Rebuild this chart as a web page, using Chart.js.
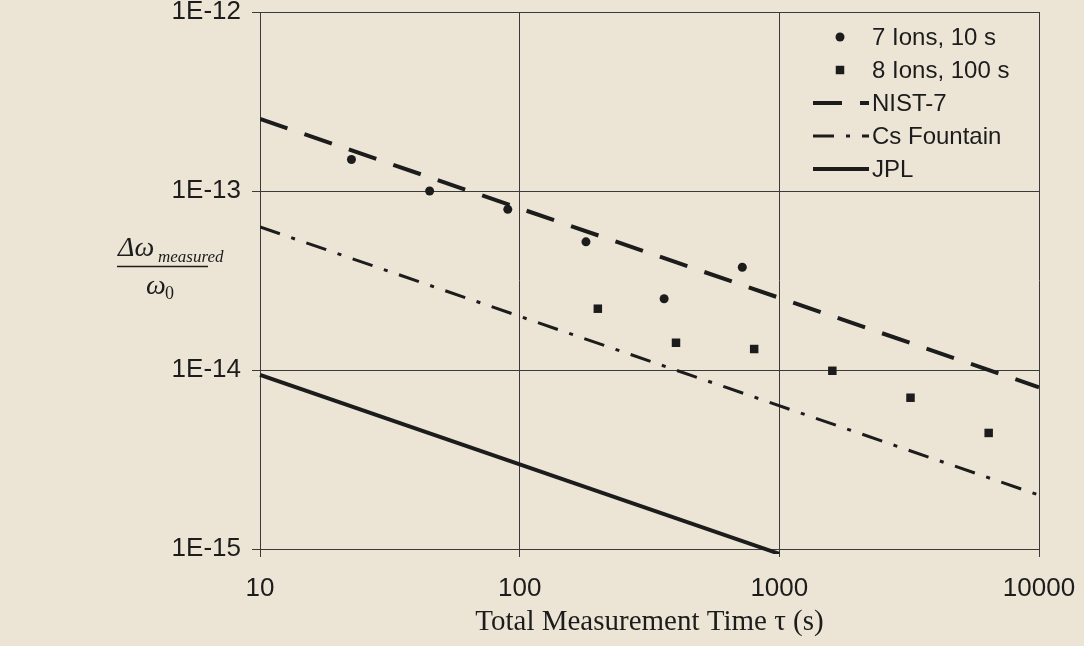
<!DOCTYPE html>
<html>
<head>
<meta charset="utf-8">
<script src="https://cdn.jsdelivr.net/npm/chart.js@4/dist/chart.umd.min.js"></script>
<style>
  html, body { margin: 0; padding: 0; background: #ece5d6; }
  #wrap { width: 1084px; height: 646px; }
</style>
</head>
<body>
<div id="wrap"><canvas id="c" width="1084" height="646"></canvas></div>
<script>
// ---- data ----
const ions7Times  = [22.5, 45, 90, 180, 360, 720];
const ions7Values = [1.5e-13, 1.0e-13, 7.9e-14, 5.2e-14, 2.5e-14, 3.75e-14];
const ions8Times  = [200, 400, 800, 1600, 3200, 6400];
const ions8Values = [2.2e-14, 1.42e-14, 1.31e-14, 9.9e-15, 7.0e-15, 4.45e-15];
const refTimes    = [10, 10000];
const nist7Values = [2.53e-13, 8.0e-15];
const csFountainValues = [6.3e-14, 2.0e-15];
const jplTimes    = [10, 1000];
const jplValues   = [9.4e-15, 9.4e-16];
const seriesLabels = ['7 Ions, 10 s', '8 Ions, 100 s', 'NIST-7', 'Cs Fountain', 'JPL'];
const xTickValues = [10, 100, 1000, 10000];
const xTickLabels = ['10', '100', '1000', '10000'];
const yTickValues = [1e-15, 1e-14, 1e-13, 1e-12];
const yTickLabels = ['1E-15', '1E-14', '1E-13', '1E-12'];

const pts = (xs, ys) => xs.map((x, i) => ({ x: x, y: ys[i] }));
const INK = '#1c1c1c';
const GRID = '#3a3a3a';
const BG = '#ece5d6';

const bgPlugin = {
  id: 'bg',
  beforeDraw(chart) {
    const ctx = chart.ctx;
    ctx.save();
    ctx.fillStyle = BG;
    ctx.fillRect(0, 0, chart.width, chart.height);
    ctx.restore();
  }
};

const legendPlugin = {
  id: 'insideLegend',
  afterDraw(chart) {
    const ctx = chart.ctx;
    const x0 = 813, x1 = 869, textX = 872, y0 = 37, dy = 33;
    ctx.save();
    ctx.font = '24px "Liberation Sans", Arial, sans-serif';
    ctx.textBaseline = 'middle';
    ctx.fillStyle = INK;
    chart.data.datasets.forEach((ds, i) => {
      const y = y0 + i * dy;
      if (ds.showLine === false) {
        const cx = 840;
        ctx.fillStyle = ds.backgroundColor;
        ctx.beginPath();
        if (ds.pointStyle === 'rect') {
          const s = Math.SQRT1_2 * ds.pointRadius;
          ctx.rect(cx - s, y - s, 2 * s, 2 * s);
        } else {
          ctx.arc(cx, y, ds.pointRadius, 0, Math.PI * 2);
        }
        ctx.fill();
      } else {
        ctx.strokeStyle = ds.borderColor;
        ctx.lineWidth = ds.borderWidth;
        ctx.setLineDash(ds.borderDash || []);
        ctx.beginPath();
        ctx.moveTo(x0, y);
        ctx.lineTo(x1, y);
        ctx.stroke();
        ctx.setLineDash([]);
      }
      ctx.fillStyle = INK;
      ctx.textAlign = 'left';
      ctx.fillText(ds.label, textX, y + 1);
    });
    ctx.restore();
  }
};

const yTitlePlugin = {
  id: 'yTitle',
  afterDraw(chart) {
    const ctx = chart.ctx;
    ctx.save();
    ctx.fillStyle = INK;
    ctx.strokeStyle = INK;
    ctx.textBaseline = 'alphabetic';
    ctx.textAlign = 'left';
    ctx.font = 'italic 28px "Liberation Serif", "Times New Roman", serif';
    ctx.fillText('\u0394\u03C9', 118, 256);
    ctx.font = 'italic 17px "Liberation Serif", "Times New Roman", serif';
    ctx.fillText('measured', 158, 262);
    ctx.lineWidth = 1.5;
    ctx.beginPath();
    ctx.moveTo(117, 266.5);
    ctx.lineTo(208, 266.5);
    ctx.stroke();
    ctx.font = 'italic 28px "Liberation Serif", "Times New Roman", serif';
    ctx.fillText('\u03C9', 146, 294);
    ctx.font = '18px "Liberation Serif", "Times New Roman", serif';
    ctx.fillText('0', 165, 299);
    ctx.restore();
  }
};

const chart = new Chart(document.getElementById('c'), {
  type: 'scatter',
  data: {
    datasets: [
      { label: seriesLabels[0], data: pts(ions7Times, ions7Values), showLine: false,
        pointStyle: 'circle', pointRadius: 4.5, backgroundColor: INK, borderColor: INK, borderWidth: 0 },
      { label: seriesLabels[1], data: pts(ions8Times, ions8Values), showLine: false,
        pointStyle: 'rect', pointRadius: 6, backgroundColor: INK, borderColor: INK, borderWidth: 0 },
      { label: seriesLabels[2], data: pts(refTimes, nist7Values), showLine: true,
        borderColor: INK, borderWidth: 4, borderDash: [29, 18], pointRadius: 0, borderCapStyle: 'butt' },
      { label: seriesLabels[3], data: pts(refTimes, csFountainValues), showLine: true,
        borderColor: INK, borderWidth: 3, borderDash: [21, 12, 4, 12], pointRadius: 0 },
      { label: seriesLabels[4], data: pts(jplTimes, jplValues), showLine: true,
        borderColor: INK, borderWidth: 4, pointRadius: 0, clip: 5 }
    ]
  },
  options: {
    responsive: false,
    animation: false,
    devicePixelRatio: 1,
    layout: { padding: { left: 0, top: 12, right: 45, bottom: 0 } },
    plugins: { legend: { display: false }, tooltip: { enabled: false } },
    scales: {
      x: {
        type: 'logarithmic', min: 10, max: 10000, position: 'bottom',
        afterBuildTicks: s => { s.ticks = xTickValues.map(v => ({ value: v })); },
        afterFit: s => { s.height = 97; s.paddingLeft = 0; s.paddingRight = 0; },
        ticks: {
          autoSkip: false, maxRotation: 0, padding: 16, color: INK,
          font: { family: '"Liberation Sans", Arial, sans-serif', size: 26 },
          callback: (v) => xTickLabels[xTickValues.indexOf(v)] ?? ''
        },
        grid: { color: GRID, lineWidth: 1, tickLength: 8, drawTicks: true },
        border: { color: GRID, width: 1 },
        title: {
          display: true, text: 'Total Measurement Time \u03C4 (s)', color: INK,
          font: { family: '"Liberation Serif", "Times New Roman", serif', size: 29, lineHeight: 1.1 },
          padding: { top: 0, bottom: 8 }
        }
      },
      y: {
        type: 'logarithmic', min: 1e-15, max: 1e-12, position: 'left',
        afterBuildTicks: s => { s.ticks = yTickValues.map(v => ({ value: v })); },
        afterFit: s => { s.width = 260; s.paddingTop = 0; s.paddingBottom = 0; },
        ticks: {
          autoSkip: false, padding: 11, color: INK,
          font: { family: '"Liberation Sans", Arial, sans-serif', size: 26 },
          callback: (v) => yTickLabels[yTickValues.indexOf(v)] ?? ''
        },
        grid: { color: GRID, lineWidth: 1, tickLength: 8, drawTicks: true },
        border: { color: GRID, width: 1 }
      }
    }
  },
  plugins: [bgPlugin, legendPlugin, yTitlePlugin]
});
</script>
</body>
</html>
